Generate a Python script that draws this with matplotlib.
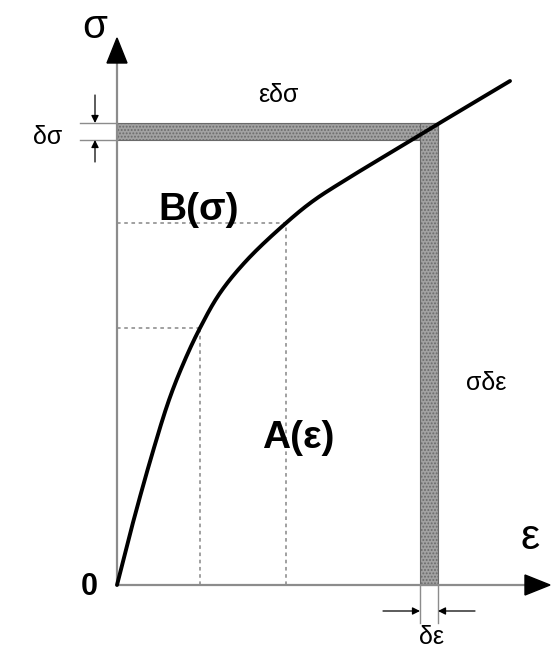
import numpy as np
import matplotlib
matplotlib.use("Agg")
import matplotlib.pyplot as plt
from matplotlib.patches import Rectangle, Polygon

plt.rcParams['font.family'] = ['Liberation Sans', 'DejaVu Sans']
plt.rcParams['hatch.color'] = '#555555'
plt.rcParams['hatch.linewidth'] = 0.9

# stress-strain curve (eps, sigma)
eps = [0.00, 0.14, 0.34, 0.52, 0.67, 0.83, 1.03, 1.30, 1.69, 1.96, 2.30, 3.03, 3.21, 3.93]
sig = [0.00, 0.55, 1.27, 1.85, 2.23, 2.57, 2.92, 3.25, 3.62, 3.84, 4.06, 4.50, 4.61, 5.04]

# points projected onto the axes
proj_eps = [0.83, 1.69]
proj_sig = [2.57, 3.62]

# strip of the increments
eps0, d_eps = 3.03, 0.18
sig0, d_sig = 4.45, 0.17

eps_max, sig_max = 4.33, 5.47

AX_GRAY = '#8c8c8c'


def catmull_rom(xs, ys, n=30):
    """smooth path through the given points (centripetal Catmull-Rom)"""
    p = np.column_stack([xs, ys]).astype(float)
    p = np.vstack([2 * p[0] - p[1], p, 2 * p[-1] - p[-2]])
    out = []
    for i in range(1, len(p) - 2):
        p0, p1, p2, p3 = p[i - 1], p[i], p[i + 1], p[i + 2]
        t0 = 0.0
        t1 = t0 + np.linalg.norm(p1 - p0) ** 0.5
        t2 = t1 + np.linalg.norm(p2 - p1) ** 0.5
        t3 = t2 + np.linalg.norm(p3 - p2) ** 0.5
        t = np.linspace(t1, t2, n)[:, None]
        a1 = (t1 - t) / (t1 - t0) * p0 + (t - t0) / (t1 - t0) * p1
        a2 = (t2 - t) / (t2 - t1) * p1 + (t - t1) / (t2 - t1) * p2
        a3 = (t3 - t) / (t3 - t2) * p2 + (t - t2) / (t3 - t2) * p3
        b1 = (t2 - t) / (t2 - t0) * a1 + (t - t0) / (t2 - t0) * a2
        b2 = (t3 - t) / (t3 - t1) * a2 + (t - t1) / (t3 - t1) * a3
        c = (t2 - t) / (t2 - t1) * b1 + (t - t1) / (t2 - t1) * b2
        out.append(c if i == 1 else c[1:])
    c = np.vstack(out)
    return c[:, 0], c[:, 1]


fig = plt.figure(figsize=(5.56, 6.48), dpi=100)
ax = fig.add_axes([0, 0, 1, 1])
ax.set_xlim(-1.17, 4.39)
ax.set_ylim(-0.63, 5.85)
ax.axis('off')

# hatched strips: eps*d_sig (horizontal) and sig*d_eps (vertical)
strip_kw = dict(facecolor='#a2a2a2', edgecolor='#6a6a6a', hatch='.....', lw=0.8, zorder=2)
ax.add_patch(Rectangle((0, sig0), eps0 + d_eps, d_sig, **strip_kw))
ax.add_patch(Rectangle((eps0, 0), d_eps, sig0 + d_sig, **strip_kw))

# dotted projections
for e, s in zip(proj_eps, proj_sig):
    ax.plot([0, e], [s, s], color='#999999', lw=1.3, ls=(0, (2, 2)), zorder=1)
    ax.plot([e, e], [0, s], color='#999999', lw=1.3, ls=(0, (2, 2)), zorder=1)

# axes with arrow heads
head_len, head_w = 0.25, 0.10
ax.plot([0, 0], [0, sig_max - head_len], color=AX_GRAY, lw=1.6, zorder=3)
ax.plot([0, eps_max - head_len], [0, 0], color=AX_GRAY, lw=1.6, zorder=3)
ax.add_patch(Polygon([(-head_w, sig_max - head_len), (head_w, sig_max - head_len), (0, sig_max)],
                     closed=True, color='black', zorder=4))
ax.add_patch(Polygon([(eps_max - head_len, -head_w), (eps_max - head_len, head_w), (eps_max, 0)],
                     closed=True, color='black', zorder=4))

# the curve
cx, cy = catmull_rom(eps, sig)
ax.plot(cx, cy, color='black', lw=2.8, solid_capstyle='round', zorder=5)

# dimension marks for d_sig
ax.plot([-0.37, 0], [sig0, sig0], color=AX_GRAY, lw=1.0)
ax.plot([-0.37, 0], [sig0 + d_sig, sig0 + d_sig], color=AX_GRAY, lw=1.0)
arr = dict(arrowstyle='-|>', color='black', lw=0.9, mutation_scale=11, shrinkA=0, shrinkB=0)
ax.annotate('', xy=(-0.22, sig0 + d_sig), xytext=(-0.22, sig0 + d_sig + 0.28), arrowprops=arr)
ax.annotate('', xy=(-0.22, sig0), xytext=(-0.22, sig0 - 0.22), arrowprops=arr)

# dimension marks for d_eps
ax.plot([eps0, eps0], [0, -0.38], color=AX_GRAY, lw=1.0)
ax.plot([eps0 + d_eps, eps0 + d_eps], [0, -0.38], color=AX_GRAY, lw=1.0)
ax.annotate('', xy=(eps0, -0.26), xytext=(eps0 - 0.37, -0.26), arrowprops=arr)
ax.annotate('', xy=(eps0 + d_eps, -0.26), xytext=(eps0 + d_eps + 0.37, -0.26), arrowprops=arr)

# labels
ax.text(-0.22, 5.58, 'σ', fontsize=29, ha='center', va='center')
ax.text(4.13, 0.47, 'ε', fontsize=31, ha='center', va='center')
ax.text(-0.28, -0.02, '0', fontsize=22, fontweight='bold', ha='center', va='center')
ax.text(1.61, 4.90, 'εδσ', fontsize=18, ha='center', va='center')
ax.text(-0.69, sig0 + 0.03, 'δσ', fontsize=18, ha='center', va='center')
ax.text(3.69, 2.02, 'σδε', fontsize=18, ha='center', va='center')
ax.text(eps0 + 0.11, -0.52, 'δε', fontsize=18, ha='center', va='center')
ax.text(0.82, 3.75, 'B(σ)', fontsize=28, fontweight='bold', ha='center', va='center')
ax.text(1.81, 1.47, 'A(ε)', fontsize=28, fontweight='bold', ha='center', va='center')

fig.savefig('out.png', dpi=100, facecolor='white')
